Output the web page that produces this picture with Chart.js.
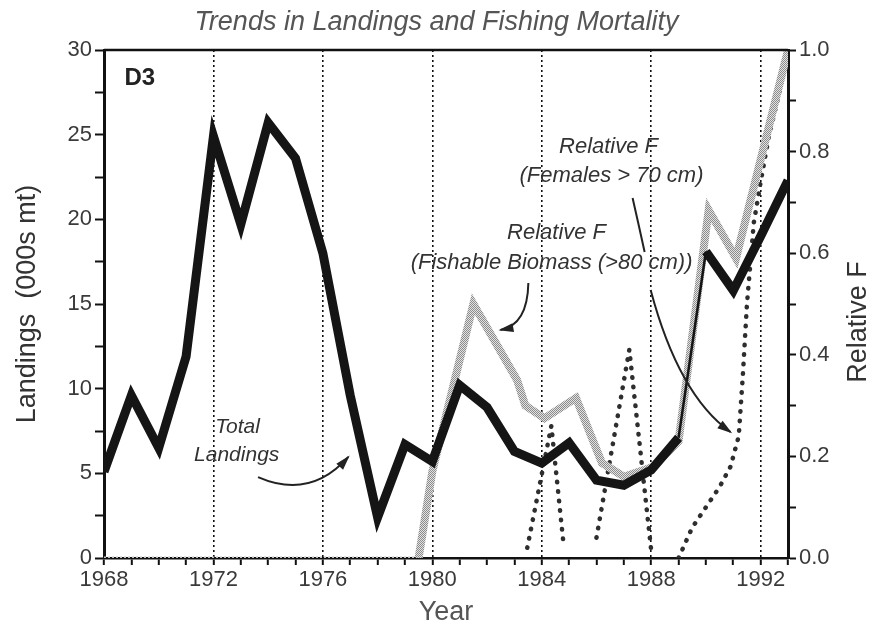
<!DOCTYPE html>
<html><head><meta charset="utf-8">
<script src="https://cdn.jsdelivr.net/npm/chart.js@4"></script>
<style>html,body{margin:0;padding:0;background:#fff;}</style>
</head><body>
<canvas id="c" width="873" height="643"></canvas>
<script>
// ---- data ----
const years = [1968,1969,1970,1971,1972,1973,1974,1975,1976,1977,1978,1979,1980,1981,1982,1983,1984,1985,1986,1987,1988,1989,1990,1991,1992,1993];
const landings = [5.1,9.6,6.5,11.9,24.9,19.7,25.7,23.6,18.0,9.6,2.4,6.7,5.7,10.2,8.9,6.3,5.6,6.8,4.6,4.3,5.2,7.1,18.1,15.8,19.0,22.3];

const fishableYears  = [1968,1979.5,1980,1981.5,1983.1,1983.4,1984.1,1985.25,1986.2,1987.0,1988.1,1989.0,1990.1,1991.1,1993];
const fishableF      = [0,0,0.17,0.50,0.35,0.30,0.275,0.315,0.187,0.16,0.18,0.23,0.685,0.59,1.0];

const femaleYears = [1983.47,1984.35,1984.8,1985.4,1986.0,1987.2,1988.0,1988.5,1989.0,1989.5,1990.0,1990.5,1990.9,1991.2,1991.35,1991.5,1991.75,1992.0,1992.3,1992.7,1993.0];
const femaleF     = [0.02,0.26,0.025,null,0.04,0.41,0.015,null,0.0,0.06,0.10,0.14,0.18,0.24,0.36,0.50,0.66,0.74,0.83,0.92,1.0];

const xTickLabels = ['1968','1972','1976','1980','1984','1988','1992'];

// ---- chart ----
const FAM = '"Liberation Sans", Arial, Helvetica, sans-serif';
Chart.defaults.font.family = FAM;

function stipple(){
  const pc = document.createElement('canvas'); pc.width = 2; pc.height = 2;
  const g = pc.getContext('2d');
  g.fillStyle = '#e2e2e2'; g.fillRect(0,0,2,2);
  g.fillStyle = '#8c8c8c'; g.fillRect(0,0,1,1); g.fillRect(1,1,1,1);
  return g.createPattern(pc,'repeat');
}

const annot = {
  id:'annot',
  afterDatasetsDraw(chart){
    const {ctx, chartArea:a, scales:{x,y}} = chart;
    const P = (u,v) => [x.getPixelForValue(u), y.getPixelForValue(v)];
    ctx.save();
    // top frame line
    ctx.strokeStyle = '#111'; ctx.lineWidth = 2.5;
    ctx.beginPath(); ctx.moveTo(a.left, a.top); ctx.lineTo(a.right, a.top); ctx.stroke();

    ctx.fillStyle = '#222'; ctx.textBaseline = 'middle';
    ctx.font = 'bold 24px ' + FAM; ctx.textAlign = 'left';
    ctx.fillText('D3', ...P(1968.75, 28.3));
    ctx.font = 'italic 21px ' + FAM; ctx.textAlign = 'center'; ctx.fillStyle = '#333';
    ctx.fillText('Total', ...P(1972.88, 7.7));
    ctx.fillText('Landings', ...P(1972.85, 6.1));
    ctx.font = 'italic 22px ' + FAM;
    ctx.fillText('Relative F', ...P(1984.54, 19.2));
    ctx.fillText('(Fishable Biomass (>80 cm))', ...P(1984.36, 17.45));
    ctx.fillText('Relative F', ...P(1986.44, 24.3));
    ctx.fillText('(Females > 70 cm)', ...P(1986.55, 22.55));

    ctx.strokeStyle = '#222'; ctx.fillStyle = '#222'; ctx.lineWidth = 2;
    const arrow = (p0, c, p1, head) => {
      ctx.beginPath(); ctx.moveTo(...p0); ctx.quadraticCurveTo(...c, ...p1); ctx.stroke();
      if (head){
        const ang = Math.atan2(p1[1]-c[1], p1[0]-c[0]); const L = 13, W = 4.5;
        const bx = p1[0]-L*Math.cos(ang), by = p1[1]-L*Math.sin(ang);
        ctx.beginPath(); ctx.moveTo(p1[0]+2*Math.cos(ang), p1[1]+2*Math.sin(ang));
        ctx.lineTo(bx+W*Math.sin(ang), by-W*Math.cos(ang));
        ctx.lineTo(bx-W*Math.sin(ang), by+W*Math.cos(ang));
        ctx.closePath(); ctx.fill();
      }
    };
    arrow(P(1973.63,4.78), P(1975.54,3.43), P(1976.93,5.97), true);
    arrow(P(1983.51,16.24), P(1983.48,13.76), P(1982.49,13.47), true);
    arrow(P(1987.32,21.26), P(1987.54,19.7), P(1987.76,18.07), false);
    arrow(P(1987.98,15.83), P(1989.0,9.63), P(1990.9,7.44), true);

    // right axis title (reads bottom-to-top)
    ctx.save();
    ctx.translate(859, 322); ctx.rotate(-Math.PI/2);
    ctx.font = '27px ' + FAM; ctx.fillStyle = '#333'; ctx.textAlign = 'center'; ctx.textBaseline = 'middle';
    ctx.fillText('Relative F', 0, 0);
    ctx.restore();
    ctx.restore();
  }
};

const pts = (xs, ys) => xs.map((v,i) => ({x:v, y:ys[i]}));

new Chart(document.getElementById('c'), {
  type:'line',
  data:{
    datasets:[
      { label:'Total Landings', data: pts(years, landings), yAxisID:'y',
        borderColor:'#151515', borderWidth:9, borderJoinStyle:'miter', borderCapStyle:'butt',
        pointRadius:0, tension:0, order:0,
        segment:{ borderWidth: c => (c.p0.parsed.x === 1989 ? 2.5 : undefined) } },
      { label:'Relative F (Fishable Biomass)', data: pts(fishableYears, fishableF), yAxisID:'y1',
        borderColor: stipple(), borderWidth:8, borderJoinStyle:'miter', pointRadius:0, tension:0, order:1,
        segment:{
          borderWidth: c => (c.p0.parsed.y === 0 && c.p1.parsed.y === 0 ? 3 : undefined),
          borderColor: c => (c.p0.parsed.y === 0 && c.p1.parsed.y === 0 ? '#c4c4c4' : undefined),
          borderDash: c => (c.p0.parsed.y === 0 && c.p1.parsed.y === 0 ? [2,2] : undefined)
        } },
      { label:'Relative F (Females > 70 cm)', data: pts(femaleYears, femaleF), yAxisID:'y1',
        borderColor:'#2e2e2e', borderWidth:4.5, borderDash:[0.5,9], borderCapStyle:'round',
        pointRadius:0, tension:0, spanGaps:false, order:2 }
    ]
  },
  options:{
    responsive:false, animation:false, devicePixelRatio:1,
    layout:{ padding:0 },
    plugins:{
      legend:{display:false}, tooltip:{enabled:false},
      title:{ display:true, text:'Trends in Landings and Fishing Mortality',
        font:{size:27, style:'italic', weight:'normal'}, color:'#555', padding:{top:6, bottom:11.6} }
    },
    scales:{
      x:{ type:'linear', min:1968, max:1993,
        ticks:{ stepSize:1, autoSkip:false, maxRotation:0, minRotation:0, color:'#3a3a3a',
          font:{size:22}, padding:2,
          callback: v => (xTickLabels.includes(String(v)) ? String(v) : '') },
        grid:{ color: c => (c.tick && xTickLabels.includes(String(c.tick.value)) && c.tick.value > 1968 ? '#111' : 'rgba(0,0,0,0)'),
          lineWidth:1.6, tickColor:'#111', tickWidth:2, tickLength:7 },
        border:{ display:true, color:'#111', width:2.5, dash:[2,3] },
        title:{ display:true, text:'Year', font:{size:27}, color:'#555', padding:{top:0, bottom:14} },
        afterFit: s => { s.height = 85; } },
      y:{ position:'left', min:0, max:30,
        ticks:{ stepSize:2.5, color:'#3a3a3a', font:{size:22}, padding:3,
          callback: v => (v % 5 === 0 ? String(v) : '') },
        grid:{ drawOnChartArea:false, tickColor:'#111', tickLength:9, tickWidth:2 },
        border:{ color:'#111', width:3 },
        title:{ display:true, text:'Landings  (000s mt)', font:{size:27}, color:'#333', padding:{top:11, bottom:0} },
        afterFit: s => { s.width = 104; } },
      y1:{ position:'right', min:0, max:1,
        ticks:{ stepSize:0.1, color:'#3a3a3a', font:{size:22}, padding:3,
          callback: v => (Math.round(v*10) % 2 === 0 ? v.toFixed(1) : '') },
        grid:{ drawOnChartArea:false, tickColor:'#111', tickLength:8, tickWidth:2 },
        border:{ color:'#111', width:3 },
        afterFit: s => { s.width = 85; } }
    }
  },
  plugins:[annot]
});
</script>
</body></html>
